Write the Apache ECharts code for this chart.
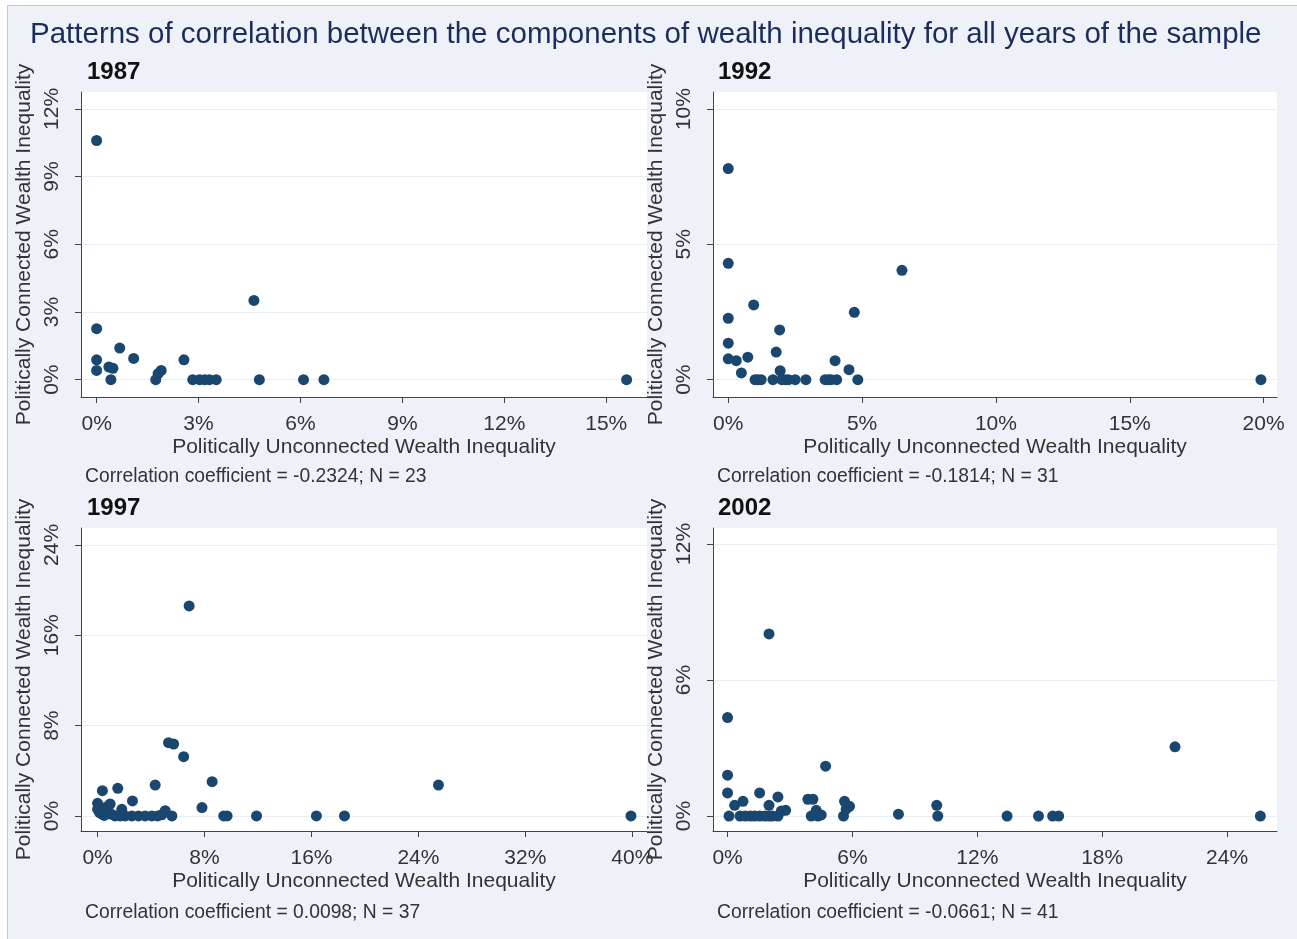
<!DOCTYPE html>
<html>
<head>
<meta charset="utf-8">
<script src="https://cdn.jsdelivr.net/npm/echarts@6/dist/echarts.min.js"></script>
<style>
  html, body { margin: 0; padding: 0; background: #fff; }
  .frame { position: absolute; left: 7px; top: 5px; width: 1300px; height: 940px; background: #eef2f8; border-left: 1px solid #c8c8c8; border-top: 1px solid #c8c8c8; }
  .chart { position: absolute; left: 0; top: 0; width: 1297px; height: 939px; }
</style>
</head>
<body>
<div class="frame"></div>
<div id="main" class="chart"></div>
<script>
// data, values in percent
const years = ['1987', '1992', '1997', '2002']
const notes = [
  'Correlation coefficient = -0.2324; N = 23',
  'Correlation coefficient = -0.1814; N = 31',
  'Correlation coefficient = 0.0098; N = 37',
  'Correlation coefficient = -0.0661; N = 41'
]

const x1987 = [0, 0, 0, 0, 0.36, 0.48, 0.42, 0.68, 1.09, 1.74, 1.81, 1.9, 2.57, 2.83, 3.03, 3.18, 3.32, 3.52, 4.63, 4.79, 6.09, 6.69, 15.6]
const y1987 = [10.6, 2.26, 0.88, 0.41, 0.56, 0.5, 0, 1.4, 0.94, 0, 0.27, 0.41, 0.88, 0, 0, 0, 0, 0, 3.51, 0, 0, 0, 0]

const x1992 = [0, 0, 0, 0, 0, 0.3, 0.49, 0.73, 0.95, 1.0, 1.1, 1.23, 1.67, 1.79, 1.92, 1.94, 2.0, 2.13, 2.25, 2.5, 2.9, 3.62, 3.75, 3.84, 4.05, 3.99, 4.51, 4.71, 4.84, 6.49, 19.9]
const y1992 = [7.8, 4.3, 2.27, 1.35, 0.77, 0.7, 0.25, 0.83, 2.76, 0, 0, 0, 0, 1.02, 1.84, 0.33, 0, 0, 0, 0, 0, 0, 0, 0, 0, 0.7, 0.37, 2.49, 0, 4.04, 0]

const x1997 = [6.85, 5.31, 5.69, 6.44, 8.57, 4.31, 0.36, 1.51, 2.61, 7.81, 0, 0, 0.31, 0.64, 0.94, 1.81, 1.31, 1.69, 2.06, 2.56, 3.06, 3.56, 4.06, 4.49, 5.06, 5.56, 9.44, 9.69, 11.89, 16.37, 18.47, 25.5, 39.9, 0.15, 0.5, 1.05, 4.8]
const y1997 = [18.6, 6.49, 6.37, 5.25, 3.04, 2.74, 2.24, 2.45, 1.33, 0.74, 1.12, 0.59, 0.18, 0.77, 1.06, 0.59, 0, 0, 0, 0, 0, 0, 0, 0, 0.47, 0, 0, 0, 0, 0, 0, 2.74, 0, 0.3, 0.05, 0.15, 0.1]

const x2002 = [1.99, 0, 21.5, 4.71, 0, 0, 0.07, 0.34, 0.74, 0.6, 0.85, 1.1, 1.3, 1.55, 1.54, 1.99, 2.42, 2.15, 2.42, 2.79, 2.58, 3.86, 4.1, 4.02, 4.34, 4.26, 5.62, 5.86, 5.57, 8.21, 10.05, 10.1, 13.43, 14.94, 15.62, 15.91, 25.6, 1.8, 2.0, 4.5, 5.7]
const y2002 = [8.03, 4.34, 3.05, 2.2, 1.8, 1.02, 0, 0.47, 0.65, 0, 0, 0, 0, 0, 1.02, 0.47, 0.84, 0, 0, 0.25, 0.22, 0.74, 0.74, 0, 0, 0.25, 0.65, 0.43, 0, 0.08, 0.47, 0, 0, 0, 0, 0, 0, 0, 0, 0.05, 0.3]

// tick labels per panel
const xTicks = [[0, 3, 6, 9, 12, 15], [0, 5, 10, 15, 20], [0, 8, 16, 24, 32, 40], [0, 6, 12, 18, 24]]
const yTicks = [[0, 3, 6, 9, 12], [0, 5, 10], [0, 8, 16, 24], [0, 6, 12]]
const xRange = [[-0.46, 16.2], [-0.57, 20.5], [-1.24, 41.1], [-0.7, 26.4]]
const yRange = [[-0.77, 12.75], [-0.64, 10.63], [-1.33, 25.5], [-0.66, 12.7]]

const xs = [x1987, x1992, x1997, x2002]
const ys = [y1987, y1992, y1997, y2002]

const font = 'Arial, "Liberation Sans", sans-serif'
const navy = '#1a476f'

const grids = [
  { left: 81, top: 92, width: 566, height: 305 },
  { left: 713, top: 92, width: 564, height: 305 },
  { left: 81, top: 528, width: 566, height: 303 },
  { left: 713, top: 528, width: 564, height: 303 }
]

const chart = echarts.init(document.getElementById('main'))

const pct = v => v + '%'

const xAxis = years.map((y, i) => ({
  type: 'value',
  gridIndex: i,
  min: xRange[i][0],
  max: xRange[i][1],
  name: 'Politically Unconnected Wealth Inequality',
  nameLocation: 'middle',
  nameGap: 40,
  nameTextStyle: { color: '#333', fontSize: 21, fontFamily: font },
  axisLine: { show: true, onZero: false, lineStyle: { color: '#444', width: 1 } },
  axisTick: { show: true, length: 6, customValues: xTicks[i], lineStyle: { color: '#444' } },
  axisLabel: { customValues: xTicks[i], formatter: pct, color: '#333', fontSize: 21, fontFamily: font, margin: 17 },
  splitLine: { show: false }
}))

const yAxis = years.map((y, i) => ({
  type: 'value',
  gridIndex: i,
  min: yRange[i][0],
  max: yRange[i][1],
  name: 'Politically Connected Wealth Inequality',
  nameLocation: 'middle',
  nameGap: 46,
  nameTextStyle: { color: '#333', fontSize: 21, fontFamily: font },
  axisLine: { show: true, onZero: false, lineStyle: { color: '#444', width: 1 } },
  axisTick: { show: true, length: 6, customValues: yTicks[i], lineStyle: { color: '#444' } },
  axisLabel: { customValues: yTicks[i], formatter: pct, rotate: 90, color: '#333', fontSize: 21, fontFamily: font, margin: 18 },
  splitLine: { show: true, lineStyle: { color: '#e8eef5', width: 1 } }
}))

const series = years.map((y, i) => ({
  type: 'scatter',
  name: y,
  xAxisIndex: i,
  yAxisIndex: i,
  symbol: 'circle',
  symbolSize: 11,
  itemStyle: { color: navy, opacity: 1 },
  data: xs[i].map((v, k) => [v, ys[i][k]])
}))

// panel titles and notes
const titles = [
  { text: 'Patterns of correlation between the components of wealth inequality for all years of the sample',
    left: 30, top: 20, padding: 0, textStyle: { color: '#1c2d5c', fontSize: 29.5, fontWeight: 'normal', fontFamily: font } }
]
const titlePos = [[87, 60], [718, 60], [87, 496], [718, 496]]
const notePos = [[85, 467], [717, 467], [85, 903], [717, 903]]
years.forEach((y, i) => {
  titles.push({ text: y, left: titlePos[i][0], top: titlePos[i][1], padding: 0,
    textStyle: { color: '#111', fontSize: 24, fontWeight: 'bold', fontFamily: font } })
  titles.push({ text: notes[i], left: notePos[i][0], top: notePos[i][1], padding: 0,
    textStyle: { color: '#333', fontSize: 19.3, fontWeight: 'normal', fontFamily: font } })
})

chart.setOption({
  backgroundColor: 'transparent',
  animation: false,
  title: titles,
  grid: grids.map(g => Object.assign({ show: true, backgroundColor: '#fff', borderWidth: 0 }, g)),
  xAxis,
  yAxis,
  series
})
</script>
</body>
</html>
